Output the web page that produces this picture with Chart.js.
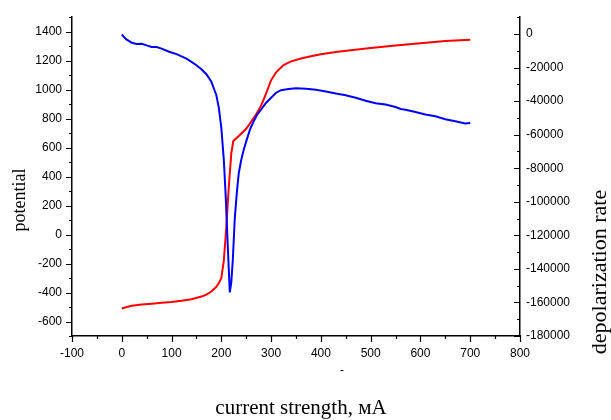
<!DOCTYPE html>
<html>
<head>
<meta charset="utf-8">
<script src="https://cdn.jsdelivr.net/npm/chart.js@4"></script>
<style>
    html, body { margin: 0; padding: 0; background: #fff; }
    #wrap { width: 611px; height: 420px; position: relative; }
</style>
</head>
<body>
<div id="wrap"><canvas id="chart"></canvas></div>
<script>
// --- Data ---
const potentialCurrent = [0, 10, 20, 40, 60, 80, 100, 120, 140, 160, 170, 180, 190, 195, 200, 205, 210, 215, 220, 224,
    235, 250, 260, 270, 280, 290, 300, 310, 325, 340, 360, 380, 400, 430, 460, 500, 550, 600, 650, 700];
const potential = [-510, -500, -492, -483, -477, -471, -465, -457, -446, -428, -414, -393, -360, -335, -300, -180, 50, 330, 560, 645,
    680, 730, 780, 830, 890, 975, 1065, 1120, 1170, 1195, 1215, 1230, 1245, 1260, 1272, 1288, 1305, 1320, 1335, 1345];

const rateCurrent = [0, 5, 10, 20, 30, 40, 50, 60, 70, 80, 95, 110, 120, 130, 140, 150, 160, 170, 180, 185, 190, 195, 200, 205,
    209, 213, 217, 220, 223, 227, 231, 235, 240, 245, 250, 258, 265, 271, 280, 290, 300, 310, 320, 335, 350, 370, 390, 410,
    430, 450, 470, 490, 510, 530, 550, 560, 570, 590, 610, 630, 650, 670, 690, 700];
const depolarizationRate = [-300, -2000, -3400, -5200, -5900, -5800, -6800, -7700, -7800, -8700, -10600, -12000, -13400, -14700,
    -16600, -18600, -21000, -24000, -28500, -32500, -36500, -44000, -56000, -75000, -98000, -127000, -154000, -148000,
    -135000, -110000, -95000, -83000, -75000, -69000, -64000, -56500, -52000, -48600, -45000, -41000, -38000, -35000,
    -33500, -32800, -32400, -32700, -33300, -34300, -35500, -36500, -38000, -39800, -41300, -42000, -43500, -44700,
    -45200, -46500, -48000, -49000, -50800, -52000, -53300, -53000];

const xTickValues = [-100, 0, 100, 200, 300, 400, 500, 600, 700, 800];
const leftTickValues = [-600, -400, -200, 0, 200, 400, 600, 800, 1000, 1200, 1400];
const rightTickValues = [-180000, -160000, -140000, -120000, -100000, -80000, -60000, -40000, -20000, 0];

const xTitle = 'current strength, мА';
const leftTitle = 'potential';
const rightTitle = 'depolarization rate';

// --- Helpers ---
const toPoints = (xs, ys) => xs.map((x, i) => ({ x: x, y: ys[i] }));
const setTicks = values => scale => { scale.ticks = values.map(v => ({ value: v })); };
const plain = v => String(v);

const tickFont = { family: "'Liberation Sans', Arial, sans-serif", size: 12 };
const serif = "'Liberation Serif', 'Times New Roman', serif";

function drawText(ctx, text, x, y, font, angle) {
    ctx.save();
    ctx.font = font;
    ctx.translate(x, y);
    ctx.rotate(angle);
    ctx.fillText(text, 0, 0);
    ctx.restore();
}

// minor/major tick marks and the axis titles
const axisDecor = {
    id: 'axisDecor',
    afterDraw(chart) {
        const ctx = chart.ctx;
        const x = chart.scales.x, y = chart.scales.y, y1 = chart.scales.y1;
        const area = chart.chartArea;
        ctx.save();
        ctx.strokeStyle = '#000';
        ctx.lineWidth = 1.2;
        ctx.beginPath();
        for (let v = -100; v <= 800; v += 50) {
            const px = Math.round(x.getPixelForValue(v)) + 0.5;
            const len = v % 100 === 0 ? 6 : 3;
            ctx.moveTo(px, area.bottom);
            ctx.lineTo(px, area.bottom + len);
        }
        for (let v = -700; v <= 1500; v += 100) {
            const py = Math.round(y.getPixelForValue(v)) + 0.5;
            const len = v % 200 === 0 ? 6 : 3;
            ctx.moveTo(area.left - len, py);
            ctx.lineTo(area.left, py);
        }
        for (let v = -180000; v <= 10000; v += 10000) {
            const py = Math.round(y1.getPixelForValue(v)) + 0.5;
            const len = v % 20000 === 0 ? 6 : 3;
            ctx.moveTo(area.right - len, py);
            ctx.lineTo(area.right, py);
        }
        ctx.stroke();

        ctx.fillStyle = '#000';
        ctx.textAlign = 'center';
        ctx.textBaseline = 'middle';
        drawText(ctx, leftTitle, 20, 200, '18px ' + serif, -Math.PI / 2);
        drawText(ctx, rightTitle, 600, 272, '22px ' + serif, -Math.PI / 2);
        drawText(ctx, xTitle, 301, 408, '21px ' + serif, 0);
        drawText(ctx, '-', 342, 371, "12px 'Liberation Sans', Arial, sans-serif", 0);
        ctx.restore();
    }
};

const ctx = document.getElementById('chart').getContext('2d');
new Chart(ctx, {
    type: 'line',
    data: {
        datasets: [{
            label: 'depolarization rate',
            data: toPoints(rateCurrent, depolarizationRate),
            yAxisID: 'y1',
            borderColor: '#0000ff',
            borderWidth: 2,
            pointRadius: 0,
            tension: 0,
            fill: false
        }, {
            label: 'potential',
            data: toPoints(potentialCurrent, potential),
            yAxisID: 'y',
            borderColor: '#ff0000',
            borderWidth: 2,
            pointRadius: 0,
            tension: 0,
            fill: false
        }]
    },
    options: {
        responsive: true, maintainAspectRatio: false,
        animation: false,
        layout: { padding: { top: 14, left: 0, right: 0, bottom: 0 } },
        plugins: {
            legend: { display: false },
            tooltip: { enabled: false }
        },
        scales: {
            x: {
                type: 'linear',
                min: -100, max: 800,
                afterBuildTicks: setTicks(xTickValues),
                afterFit: s => { s.height = 84; },
                grid: { drawOnChartArea: false, drawTicks: false },
                border: { color: '#000', width: 1.5 },
                ticks: { color: '#000', font: tickFont, padding: 10, maxRotation: 0, autoSkip: false, callback: plain }
            },
            y: {
                type: 'linear', position: 'left',
                min: -700, max: 1500,
                afterBuildTicks: setTicks(leftTickValues),
                afterFit: s => { s.width = 72; },
                grid: { drawOnChartArea: false, drawTicks: false },
                border: { color: '#000', width: 1.5 },
                ticks: { color: '#000', font: tickFont, padding: 10, autoSkip: false, callback: plain }
            },
            y1: {
                type: 'linear', position: 'right',
                min: -180000, max: 10000,
                afterBuildTicks: setTicks(rightTickValues),
                afterFit: s => { s.width = 91; },
                grid: { drawOnChartArea: false, drawTicks: false },
                border: { color: '#000', width: 1.5 },
                ticks: { color: '#000', font: tickFont, padding: 6, autoSkip: false, callback: plain }
            }
        }
    },
    plugins: [axisDecor]
});
</script>
</body>
</html>
